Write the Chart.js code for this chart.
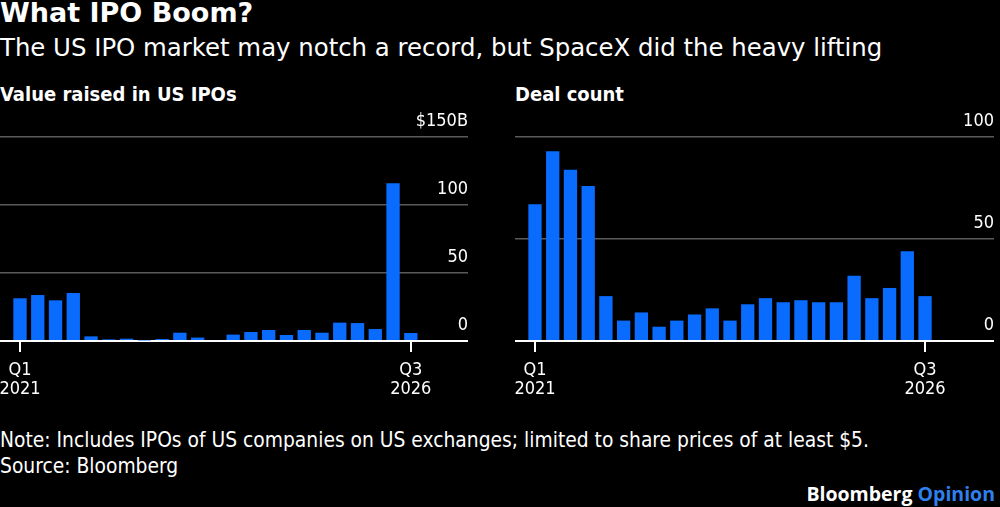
<!DOCTYPE html>
<html>
<head>
<meta charset="utf-8">
<script src="https://cdn.jsdelivr.net/npm/chart.js@4/dist/chart.umd.min.js"></script>
<style>
    html, body { margin: 0; padding: 0; background: #000; }
    body { width: 1000px; height: 507px; position: relative; overflow: hidden; color: #fff; }
    .txt { position: absolute; white-space: nowrap; }
    #title { left: 0; top: -3px; font: bold 27px "DejaVu Sans", sans-serif; }
    #subtitle { left: 0; top: 33px; font: 24.4px "DejaVu Sans", sans-serif; }
    .panel-title { top: 82px; font: bold 20px "Liberation Sans Narrow", "DejaVu Sans Condensed", Roboto, sans-serif; }
    #note { left: 0; top: 427px; font: 20.8px "Liberation Sans Narrow", "DejaVu Sans Condensed", Roboto, sans-serif; line-height: 26px; }
    #brand { right: 5px; top: 480px; font: bold 19.5px "Open Sans", "DejaVu Sans", sans-serif; }
    #brand span { color: #2f80ed; }
    .box { position: absolute; top: 100px; height: 310px; }
</style>
</head>
<body>
<div class="txt" id="title">What IPO Boom?</div>
<div class="txt" id="subtitle">The US IPO market may notch a record, but SpaceX did the heavy lifting</div>
<div class="txt panel-title" style="left:0">Value raised in US IPOs</div>
<div class="txt panel-title" style="left:515px">Deal count</div>
<div class="box" style="left:0; width:480px"><canvas id="valueChart"></canvas></div>
<div class="box" style="left:500px; width:500px"><canvas id="countChart"></canvas></div>
<div class="txt" id="note">Note: Includes IPOs of US companies on US exchanges; limited to share prices of at least $5.<br>Source: Bloomberg</div>
<div class="txt" id="brand">Bloomberg <span>Opinion</span></div>

<script>
// Quarters Q1 2021 .. Q3 2026
const quarters = [
    'Q1 2021', 'Q2 2021', 'Q3 2021', 'Q4 2021',
    'Q1 2022', 'Q2 2022', 'Q3 2022', 'Q4 2022',
    'Q1 2023', 'Q2 2023', 'Q3 2023', 'Q4 2023',
    'Q1 2024', 'Q2 2024', 'Q3 2024', 'Q4 2024',
    'Q1 2025', 'Q2 2025', 'Q3 2025', 'Q4 2025',
    'Q1 2026', 'Q2 2026', 'Q3 2026'
];

// Value raised, $B
const valueRaised = [31.4, 33.8, 29.9, 35.3, 3.4, 1.2, 1.7, 0.4, 1.5, 6.1, 2.5, 0.7,
    4.7, 6.6, 8.1, 4.4, 8.1, 6.1, 13.5, 13.2, 8.8, 116, 5.9];

// Number of deals
const dealCount = [67, 93, 84, 76, 22, 10, 14, 7, 10, 13, 16, 10,
    18, 21, 19, 20, 19, 19, 32, 21, 26, 44, 22];

const valueTicks = [0, 50, 100, 150];
const countTicks = [0, 50, 100];
const shownQuarters = ['Q1 2021', 'Q3 2026'];

const BAR_BLUE = '#0a6cff';
const GRID_GRAY = '#5a5a5a';
const narrowFont = '"Liberation Sans Narrow", "DejaVu Sans Condensed", Roboto, sans-serif';

function makeChart(canvasId, values, yTicks, xRange, pad, unitLabel) {
    const ctx = document.getElementById(canvasId).getContext('2d');
    return new Chart(ctx, {
        type: 'bar',
        data: {
            datasets: [{
                data: values.map((v, i) => ({ x: i, y: v })),
                backgroundColor: BAR_BLUE,
                borderWidth: 0,
                barPercentage: 0.75,
                categoryPercentage: 1
            }]
        },
        options: {
            responsive: true,
            maintainAspectRatio: false,
            animation: false,
            layout: { padding: pad },
            plugins: { legend: { display: false }, tooltip: { enabled: false } },
            scales: {
                x: {
                    type: 'linear',
                    offset: false,
                    min: xRange[0],
                    max: xRange[1],
                    afterBuildTicks: scale => {
                        scale.ticks = shownQuarters.map(q => ({ value: quarters.indexOf(q) }));
                    },
                    afterFit: scale => {
                        scale.height = 69;
                        // labels may hang over the edges, don't shrink the plot for them
                        scale.paddingLeft = 0;
                        scale.paddingRight = 0;
                    },
                    grid: {
                        offset: false,
                        drawOnChartArea: false,
                        drawTicks: true,
                        tickLength: 11,
                        color: '#ffffff',
                        lineWidth: 2
                    },
                    border: { display: false },
                    ticks: {
                        color: '#ffffff',
                        padding: 8,
                        maxRotation: 0,
                        autoSkip: false,
                        font: { family: narrowFont, size: 18, lineHeight: 1.1 },
                        callback: value => quarters[value].split(' ')
                    }
                },
                y: {
                    position: 'right',
                    min: 0,
                    max: yTicks[yTicks.length - 1],
                    afterBuildTicks: scale => {
                        scale.ticks = yTicks.map(v => ({ value: v }));
                    },
                    afterFit: scale => { scale.width = 0; },
                    grid: {
                        drawTicks: false,
                        color: c => c.tick.value === 0 ? '#ffffff' : GRID_GRAY,
                        lineWidth: c => c.tick.value === 0 ? 2 : 1.5
                    },
                    border: { display: false },
                    ticks: {
                        mirror: true,
                        padding: 0,
                        labelOffset: -16,
                        color: '#ffffff',
                        font: { family: narrowFont, size: 18 },
                        callback: value => value === yTicks[yTicks.length - 1] && unitLabel ? unitLabel : value
                    }
                }
            }
        }
    });
}

document.addEventListener('DOMContentLoaded', function() {
    makeChart('valueChart', valueRaised, valueTicks, [-1.126, 25.22],
        { top: 37, right: 12, left: 0, bottom: 0 }, '$150B');
    makeChart('countChart', dealCount, countTicks, [-1.128, 25.89],
        { top: 37, right: 6, left: 15, bottom: 0 }, null);
});
</script>
</body>
</html>
